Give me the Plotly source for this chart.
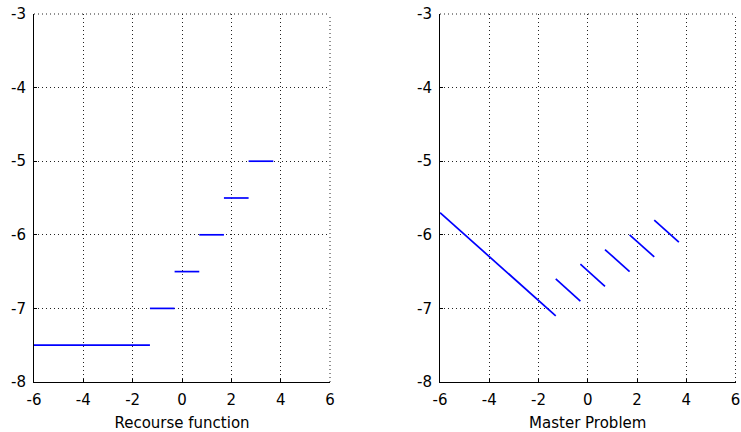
import plotly.graph_objects as go

# Data
seg_x_start = [-6.0, -1.3, -0.3, 0.7, 1.7, 2.7]
seg_x_end = [-1.3, -0.3, 0.7, 1.7, 2.7, 3.7]
recourse_y = [-7.5, -7.0, -6.5, -6.0, -5.5, -5.0]
master_y_start = [-5.7, -6.6, -6.4, -6.2, -6.0, -5.8]
master_y_end = [-7.1, -6.9, -6.7, -6.5, -6.3, -6.1]
x_ticks = [-6, -4, -2, 0, 2, 4, 6]
x_tick_labels = ["-6", "-4", "-2", "0", "2", "4", "6"]
y_ticks = [-8, -7, -6, -5, -4, -3]
y_tick_labels = ["-8", "-7", "-6", "-5", "-4", "-3"]
titles = ["Recourse function", "Master Problem"]


def segs(xs, xe, ys, ye):
    X, Y = [], []
    for a, b, c, d in zip(xs, xe, ys, ye):
        X += [a, b, None]
        Y += [c, d, None]
    return X, Y


fig = go.Figure()
lx, ly = segs(seg_x_start, seg_x_end, recourse_y, recourse_y)
mx, my = segs(seg_x_start, seg_x_end, master_y_start, master_y_end)
fig.add_trace(go.Scatter(x=lx, y=ly, mode="lines", line=dict(color="#0000ff", width=1.7),
                         xaxis="x", yaxis="y", showlegend=False, hoverinfo="skip"))
fig.add_trace(go.Scatter(x=mx, y=my, mode="lines", line=dict(color="#0000ff", width=1.7),
                         xaxis="x2", yaxis="y2", showlegend=False, hoverinfo="skip"))

W, H = 741, 432
font = dict(family="DejaVu Sans, Liberation Sans, Arial, sans-serif", size=15, color="black")
DOT = "1px,3px"
common_x = dict(range=[-6, 6], tickvals=x_ticks, ticktext=x_tick_labels, ticks="inside",
                ticklen=3, tickcolor="black", showline=True, linecolor="black", linewidth=1,
                showgrid=True, gridcolor="#222222", griddash=DOT, gridwidth=1, zeroline=False,
                tickfont=font, title_font=font, title_standoff=9, fixedrange=True,
                ticklabelstandoff=4, ticklabeloverflow="allow")
common_y = dict(range=[-8, -3], tickvals=y_ticks, ticktext=y_tick_labels, ticks="inside",
                ticklen=3, tickcolor="black", showline=True, linecolor="black", linewidth=1,
                showgrid=True, gridcolor="#222222", griddash=DOT, gridwidth=1, zeroline=False,
                tickfont=font, fixedrange=True, ticklabelstandoff=4, ticklabeloverflow="allow")


def px_x(v):
    return v / W


def px_y(v):
    return 1 - v / H


ydom = [px_y(382), px_y(14)]
fig.update_layout(
    width=W, height=H,
    margin=dict(l=0, r=0, t=0, b=0, autoexpand=False),
    paper_bgcolor="white", plot_bgcolor="white",
    xaxis=dict(common_x, domain=[px_x(34), px_x(330)], anchor="y", title_text=titles[0]),
    yaxis=dict(common_y, domain=ydom, anchor="x"),
    xaxis2=dict(common_x, domain=[px_x(440), px_x(735.5)], anchor="y2", title_text=titles[1]),
    yaxis2=dict(common_y, domain=ydom, anchor="x2"),
)

# dotted top and right borders (grid lines at the range ends)
for xr, yr in (("x", "y"), ("x2", "y2")):
    fig.add_shape(type="line", xref=f"{xr} domain", yref=f"{yr} domain", x0=0, x1=1, y0=1, y1=1,
                  line=dict(color="#222222", width=1, dash=DOT))
    fig.add_shape(type="line", xref=f"{xr} domain", yref=f"{yr} domain", x0=1, x1=1, y0=0, y1=1,
                  line=dict(color="#222222", width=1, dash=DOT))

# remove the browser's default 8px page margin so the figure fills the window
fig.write_html("out.html", config={"displayModeBar": False},
               post_script="document.body.style.margin='0';")
